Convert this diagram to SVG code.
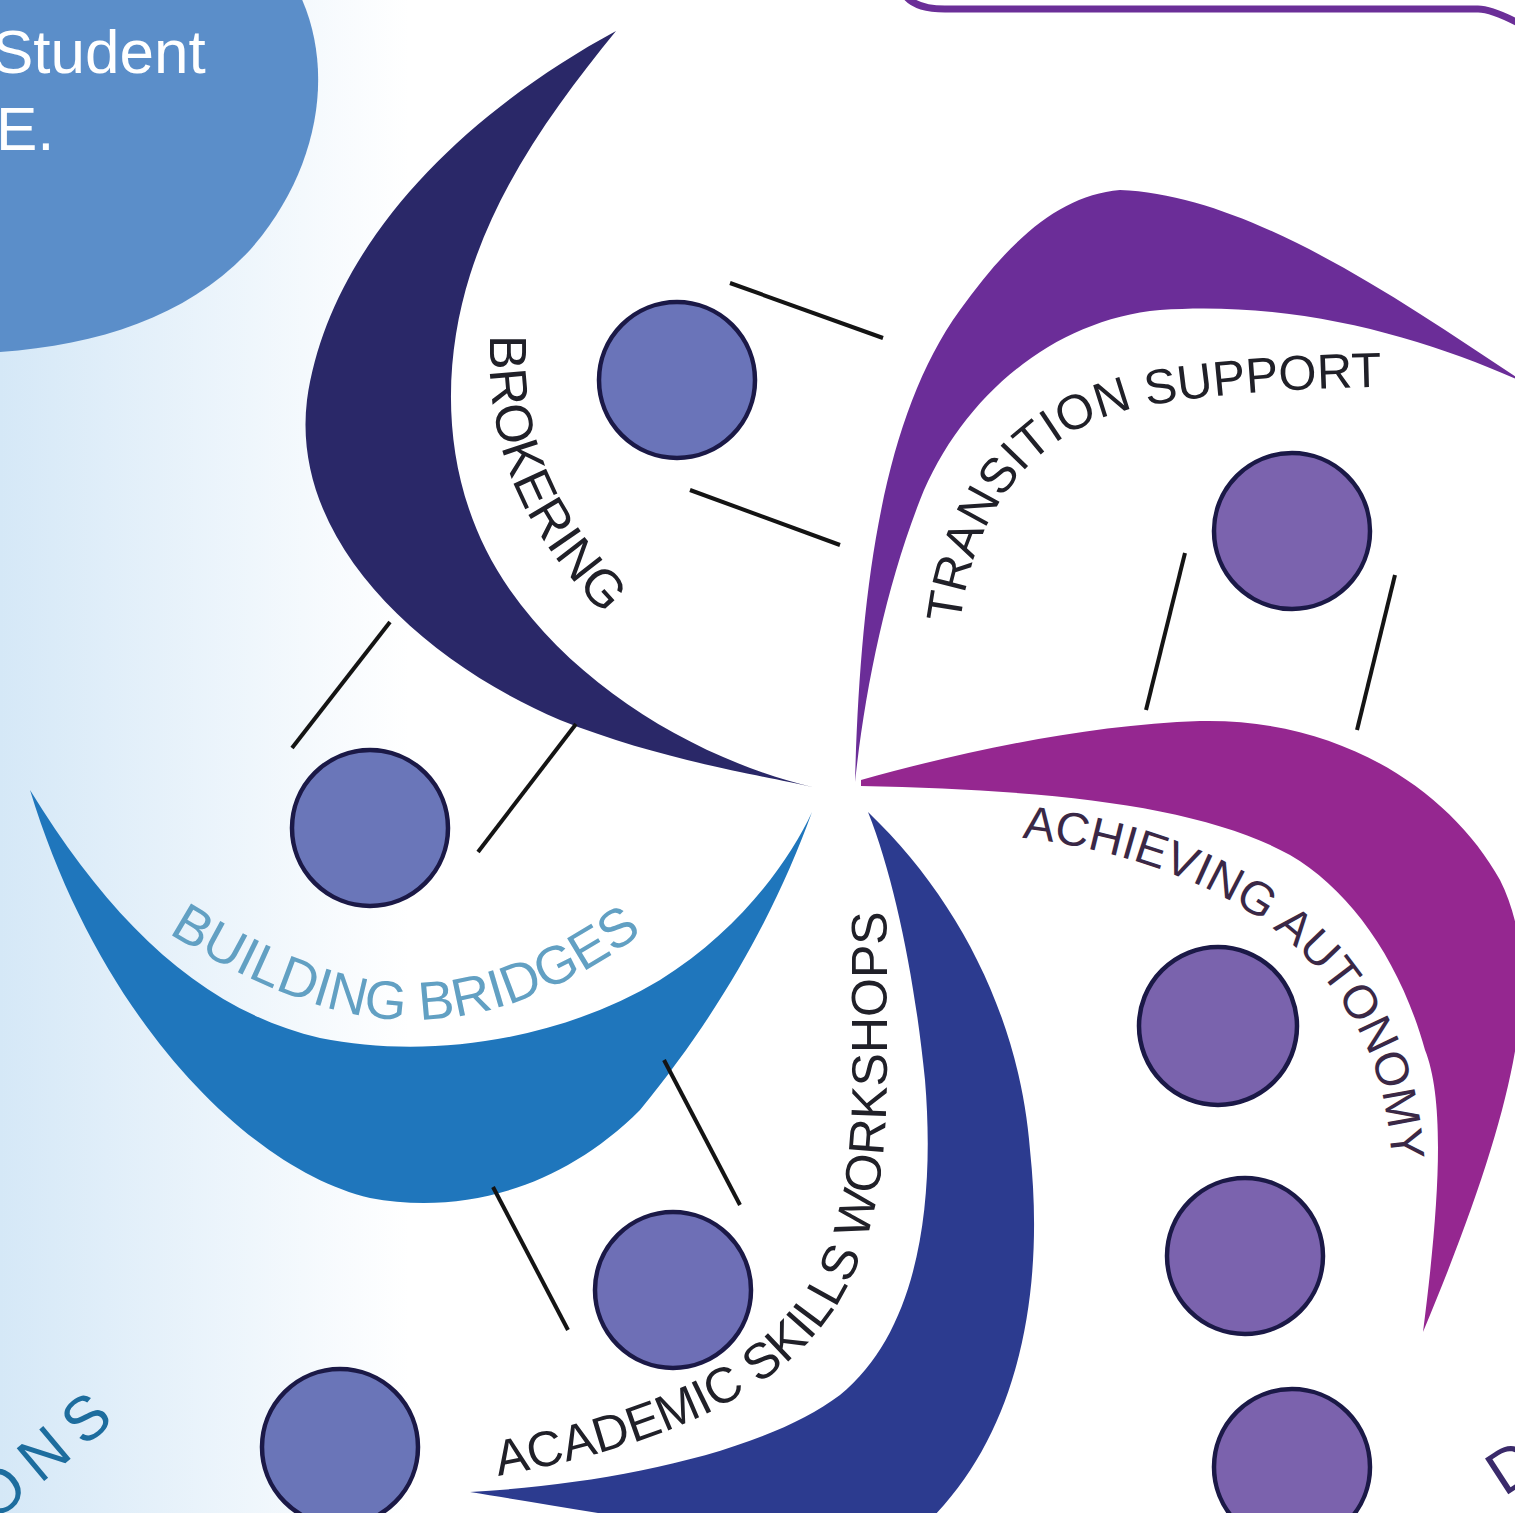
<svg xmlns="http://www.w3.org/2000/svg" width="1515" height="1513" viewBox="0 0 1515 1513">
<defs>
<linearGradient id="bg" x1="0" y1="0" x2="1" y2="0">
<stop offset="0" stop-color="#d5e8f7"/>
<stop offset="0.27" stop-color="#ffffff"/>
</linearGradient>
<path id="p-brok" d="M 490,335 C 486,450 520,540 640,650"/>
<path id="p-trans" d="M 960,624 C 975,500 1040,425 1150,405 C 1230,392 1300,388 1420,386"/>
<path id="p-auto" d="M 1022,838 C 1150,852 1280,905 1340,1000 C 1380,1060 1392,1110 1395,1220"/>
<path id="p-acad" d="M 498,1476 C 650,1448 780,1400 840,1300 C 880,1230 887,1150 887,1060 L 887,860"/>
<path id="p-bridge" d="M 168,933 C 260,990 340,1020 410,1020 C 490,1020 570,990 660,920"/>
</defs>
<style>
.lbl{font-family:"Liberation Sans",Arial,sans-serif;}
.dark{fill:#202028;}
.dot{stroke:#1b1947;stroke-width:4.5;}
.conn line{stroke:#141414;stroke-width:4;}
</style>
<rect x="0" y="0" width="1515" height="1513" fill="url(#bg)"/>

<g id="student-bubble">
<path d="M 0,-5 L 300,-5 C 335,70 320,170 250,250 C 190,315 100,345 0,352 Z" fill="#5b8ec9"/>
<text class="lbl" x="-8" y="73" font-size="62" fill="#ffffff">Student</text>
<text class="lbl" x="-4" y="150" font-size="62" fill="#ffffff">E.</text>
</g>

<g id="callout">
<path d="M 900,-20 Q 902,9 945,9 L 1478,9 Q 1492,9 1522,25" fill="none" stroke="#6b2f98" stroke-width="7"/>
</g>

<g id="brokering">
<path d="M 616,31 C 470,110 330,240 307,400 C 290,540 420,660 560,720 C 660,760 760,775 812,787 C 700,760 580,690 510,590 C 440,490 440,370 470,275 C 500,180 560,100 616,31 Z" fill="#2a2868"/>
<text class="lbl dark" font-size="52"><textPath href="#p-brok">BROKERING</textPath></text>
</g>

<g id="transition-support">
<path d="M 855,782 C 860,600 880,420 960,310 C 1010,240 1060,195 1120,190 C 1250,195 1400,300 1525,383 C 1430,340 1300,300 1160,310 C 1050,320 960,400 920,500 C 885,590 865,690 855,782 Z" fill="#6b2d98"/>
<text class="lbl dark" font-size="49"><textPath href="#p-trans">TRANSITION SUPPORT</textPath></text>
</g>

<g id="achieving-autonomy">
<path d="M 861,780 C 950,755 1080,725 1200,721 C 1340,718 1450,790 1500,880 C 1545,970 1520,1100 1423,1332 C 1440,1200 1445,1100 1425,1050 C 1400,960 1350,890 1290,855 C 1200,805 1050,790 861,786 Z" fill="#952790"/>
<text class="lbl" font-size="47" fill="#3a2846"><textPath href="#p-auto">ACHIEVING AUTONOMY</textPath></text>
</g>

<g id="academic-skills-workshops">
<path d="M 868,812 C 960,900 1020,1020 1030,1150 C 1045,1290 1020,1430 930,1520 L 640,1520 C 580,1510 520,1500 470,1492 C 600,1485 760,1455 840,1395 C 920,1330 935,1200 925,1080 C 915,980 895,880 868,812 Z" fill="#2c3b8f"/>
<text class="lbl dark" font-size="50"><textPath href="#p-acad">ACADEMIC SKILLS WORKSHOPS</textPath></text>
</g>

<g id="building-bridges">
<path d="M 30,790 C 110,920 200,1010 320,1038 C 430,1060 560,1040 660,980 C 740,930 790,860 812,812 C 780,900 730,1000 640,1110 C 560,1190 460,1215 370,1198 C 250,1170 100,1020 30,790 Z" fill="#1f76bc"/>
<text class="lbl" font-size="54" fill="#62a0c3"><textPath href="#p-bridge">BUILDING BRIDGES</textPath></text>
</g>

<g id="partial-labels">
<text class="lbl" font-size="62" fill="#1d6d9e" letter-spacing="12" transform="translate(-6,1523) rotate(-40)">ONS</text>
<text class="lbl" font-size="62" fill="#3a2a6a" transform="translate(1504,1497) rotate(-33)">D</text>
</g>

<g id="circle-1"><circle class="dot" cx="677" cy="380" r="78" fill="#6a74b9"/></g>
<g id="circle-2"><circle class="dot" cx="1292" cy="531" r="78" fill="#7b63ae"/></g>
<g id="circle-3"><circle class="dot" cx="370" cy="828" r="78" fill="#6a76b9"/></g>
<g id="circle-4"><circle class="dot" cx="1218" cy="1026" r="79" fill="#7a63ad"/></g>
<g id="circle-5"><circle class="dot" cx="673" cy="1290" r="78" fill="#6e6fb6"/></g>
<g id="circle-6"><circle class="dot" cx="1245" cy="1256" r="78" fill="#7b63ae"/></g>
<g id="circle-7"><circle class="dot" cx="340" cy="1447" r="78" fill="#6a75b8"/></g>
<g id="circle-8"><circle class="dot" cx="1292" cy="1467" r="78" fill="#7b62ad"/></g>

<g id="connectors" class="conn">
<line x1="730" y1="283" x2="883" y2="338"/>
<line x1="690" y1="490" x2="840" y2="545"/>
<line x1="1185" y1="553" x2="1146" y2="710"/>
<line x1="1395" y1="575" x2="1357" y2="730"/>
<line x1="390" y1="622" x2="292" y2="748"/>
<line x1="576" y1="724" x2="478" y2="852"/>
<line x1="664" y1="1060" x2="740" y2="1205"/>
<line x1="493" y1="1187" x2="568" y2="1330"/>
</g>
</svg>
